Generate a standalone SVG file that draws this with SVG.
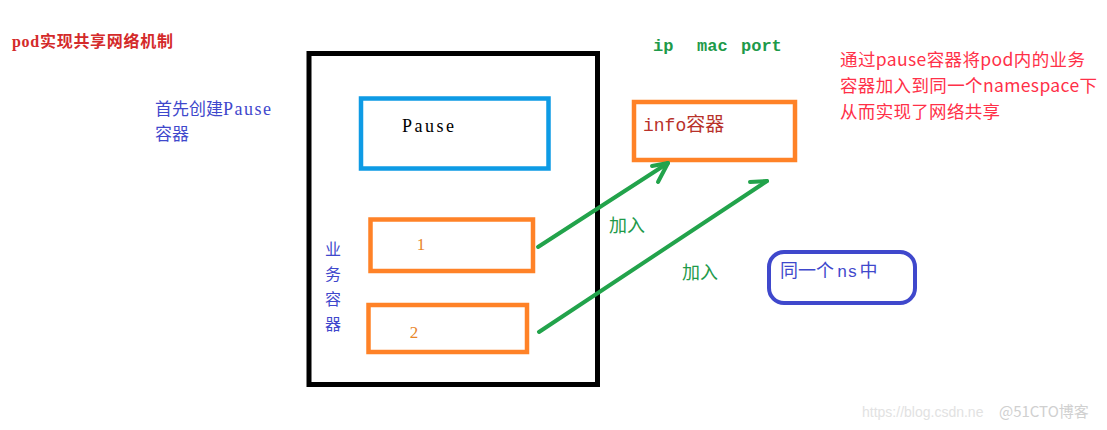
<svg xmlns="http://www.w3.org/2000/svg" width="1107" height="430" viewBox="0 0 1107 430">
<style>
.cjk{font-family:"Liberation Serif","Noto Sans CJK SC",serif;}
.mono{font-family:"Liberation Mono","Noto Sans CJK SC",monospace;}
.sans{font-family:"Noto Sans CJK SC","Noto Sans",sans-serif;}
.box{fill:none;stroke-linejoin:miter;}
.orange{stroke:#FF8227;stroke-width:4.5;}
.arrow{fill:none;stroke:#22A34B;stroke-width:4;stroke-linecap:round;stroke-linejoin:round;}
</style>
<rect width="1107" height="430" fill="#ffffff"/>
<g id="title">
<text x="12" y="47" class="cjk" font-size="16" font-weight="bold" fill="#D42A2A" textLength="161" lengthAdjust="spacing">pod实现共享网络机制</text>
</g>
<g id="note-pause">
<text x="155" y="115" class="cjk" font-size="17" fill="#3F48CC">首先创建<tspan font-size="18" letter-spacing="1.5">Pause</tspan></text>
<text x="155" y="140" class="cjk" font-size="17" fill="#3F48CC">容器</text>
</g>
<g id="pod">
<rect x="309" y="53.5" width="288.5" height="331" class="box" stroke="#000" stroke-width="5"/>
</g>
<g id="pause">
<rect x="361" y="98.5" width="187.5" height="70" class="box" stroke="#0E9BE5" stroke-width="4.5"/>
<text x="402" y="132" class="cjk" font-size="18" fill="#000" textLength="52" lengthAdjust="spacing">Pause</text>
</g>
<g id="biz-label">
<text x="333" y="255" class="cjk" font-size="16" fill="#3F48CC" text-anchor="middle">业</text>
<text x="333" y="280" class="cjk" font-size="16" fill="#3F48CC" text-anchor="middle">务</text>
<text x="333" y="305" class="cjk" font-size="16" fill="#3F48CC" text-anchor="middle">容</text>
<text x="333" y="330" class="cjk" font-size="16" fill="#3F48CC" text-anchor="middle">器</text>
</g>
<g id="c1">
<rect x="370.5" y="219.5" width="162.5" height="51.5" class="box orange"/>
<text x="421" y="250" class="cjk" font-size="17" fill="#E8862A" text-anchor="middle">1</text>
</g>
<g id="c2">
<rect x="368.5" y="305" width="158.5" height="47" class="box orange"/>
<text x="414" y="338" class="cjk" font-size="17" fill="#E8862A" text-anchor="middle">2</text>
</g>
<g id="ipmac">
<text y="51" class="mono" font-size="17" font-weight="bold" fill="#1E9A4A"><tspan x="653">ip</tspan><tspan x="697">mac</tspan><tspan x="741">port</tspan></text>
</g>
<g id="info">
<rect x="634" y="102" width="161" height="58" class="box orange"/>
<text x="643" y="131" class="mono" font-size="18" fill="#B8312A">info<tspan class="cjk" font-size="19">容器</tspan></text>
</g>
<g id="desc">
<text x="840" y="66" class="sans" font-size="17.5" fill="#FF3048" textLength="245" lengthAdjust="spacing">通过pause容器将pod内的业务</text>
<text x="840" y="92" class="sans" font-size="17.5" fill="#FF3048" textLength="257" lengthAdjust="spacing">容器加入到同一个namespace下</text>
<text x="840" y="118" class="sans" font-size="17.5" fill="#FF3048" textLength="160" lengthAdjust="spacing">从而实现了网络共享</text>
</g>
<g id="ns">
<rect x="769" y="252" width="146" height="51" rx="15" ry="15" class="box" stroke="#3F48CC" stroke-width="4"/>
<text x="780" y="277" class="cjk" font-size="18" fill="#3F48CC">同一个<tspan class="mono" font-size="17" dx="3">ns</tspan><tspan dx="2">中</tspan></text>
</g>
<g id="connectors">
<polyline class="arrow" points="538,247 668,163"/>
<polyline class="arrow" points="652,166 668,163 658,182"/>
<polyline class="arrow" points="539,332 767,181"/>
<polyline class="arrow" points="750,182 767,181"/>
<text x="609" y="232" class="cjk" font-size="18" fill="#1E9A4A">加入</text>
<text x="682" y="279" class="cjk" font-size="18" fill="#1E9A4A">加入</text>
</g>
<g id="watermark">
<text x="862" y="417" font-family="Liberation Sans,sans-serif" font-size="14" fill="#E2E2E2">https://blog.csdn.ne</text>
<text x="999" y="417" class="sans" font-size="15" fill="#D0D0D0">@51CTO博客</text>
</g>
</svg>
